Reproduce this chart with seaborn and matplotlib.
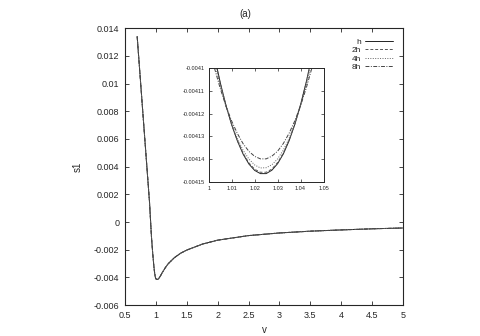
import matplotlib
matplotlib.use("Agg")
import matplotlib.pyplot as plt
import seaborn as sns
import pandas as pd

# left branch (shared by all step sizes)
v_left = [0.70, 0.75, 0.80, 0.85, 0.90, 0.93, 0.95, 0.97, 0.98, 0.99]
s1_left = [0.0134, 0.0104, 0.0074, 0.0044, 0.0014, -0.0010, -0.0022, -0.0032, -0.0036, -0.0039]

# around the minimum (where the step sizes differ)
v_min = [1.0, 1.0025, 1.005, 1.0075, 1.01, 1.0125, 1.015, 1.0175, 1.02, 1.0225, 1.025,
         1.0275, 1.03, 1.0325, 1.035, 1.0375, 1.04, 1.0425, 1.045, 1.0475, 1.05]
s1_min_h = [-0.0040818, -0.0040948, -0.0041063, -0.0041164, -0.0041250, -0.0041321, -0.0041379,
            -0.0041422, -0.0041450, -0.0041464, -0.0041464, -0.0041449, -0.0041420, -0.0041377,
            -0.0041319, -0.0041247, -0.0041160, -0.0041059, -0.0040943, -0.0040813, -0.0040669]
s1_min_2h = [-0.0040827, -0.0040954, -0.0041066, -0.0041164, -0.0041249, -0.0041319, -0.0041375,
             -0.0041417, -0.0041445, -0.0041458, -0.0041458, -0.0041444, -0.0041415, -0.0041373,
             -0.0041316, -0.0041245, -0.0041161, -0.0041062, -0.0040949, -0.0040822, -0.0040681]
s1_min_4h = [-0.0040858, -0.0040974, -0.0041077, -0.0041168, -0.0041245, -0.0041310, -0.0041362,
             -0.0041400, -0.0041426, -0.0041439, -0.0041438, -0.0041425, -0.0041399, -0.0041360,
             -0.0041308, -0.0041243, -0.0041165, -0.0041074, -0.0040970, -0.0040853, -0.0040723]
s1_min_8h = [-0.0040900, -0.0041000, -0.0041089, -0.0041167, -0.0041233, -0.0041288, -0.0041333,
             -0.0041366, -0.0041388, -0.0041399, -0.0041399, -0.0041387, -0.0041365, -0.0041331,
             -0.0041286, -0.0041231, -0.0041164, -0.0041086, -0.0040996, -0.0040896, -0.0040784]

# right branch (shared)
v_right = [1.075, 1.1, 1.15, 1.2, 1.3, 1.4, 1.5, 1.75, 2.0, 2.5, 3.0, 3.5, 4.0, 4.5, 5.0]
s1_right = [-0.00390, -0.00370, -0.00333, -0.00302, -0.00258, -0.00226, -0.00203, -0.00160,
            -0.00131, -0.00098, -0.00079, -0.00066, -0.00057, -0.00049, -0.00043]

labels = ["h", "2h", "4h", "8h"]
mins = [s1_min_h, s1_min_2h, s1_min_4h, s1_min_8h]
styles = {"h": "-", "2h": (0, (3, 2)), "4h": (0, (1, 1.5)), "8h": (0, (4, 1.5, 1, 1.5))}
colors = {"h": "#222222", "2h": "#555555", "4h": "#666666", "8h": "#444444"}

frames = []
for lab, m in zip(labels, mins):
    frames.append(pd.DataFrame({"v": v_left + v_min + v_right,
                                "s1": s1_left + m + s1_right,
                                "step": lab}))
df = pd.concat(frames, ignore_index=True)

sns.set_style("ticks")
plt.rcParams["font.family"] = ["Liberation Sans", "DejaVu Sans"]
plt.rcParams["xtick.direction"] = "in"
plt.rcParams["ytick.direction"] = "in"

fig = plt.figure(figsize=(4.8, 3.36), dpi=100)
ax = fig.add_axes([0.26, 0.092, 0.58, 0.824])

for lab in labels:
    d = df[df.step == lab]
    sns.lineplot(data=d, x="v", y="s1", ax=ax, color=colors[lab], linestyle=styles[lab],
                 linewidth=0.7, label=lab, sort=False)

ax.set_xlim(0.5, 5)
ax.set_ylim(-0.006, 0.014)
ax.set_xticks([0.5, 1, 1.5, 2, 2.5, 3, 3.5, 4, 4.5, 5])
ax.set_xticklabels(["0.5", "1", "1.5", "2", "2.5", "3", "3.5", "4", "4.5", "5"])
yt = [-0.006, -0.004, -0.002, 0, 0.002, 0.004, 0.006, 0.008, 0.01, 0.012, 0.014]
ax.set_yticks(yt)
ax.set_yticklabels(["-0.006", "-0.004", "-0.002", "0", "0.002", "0.004", "0.006",
                    "0.008", "0.01", "0.012", "0.014"])
ax.tick_params(labelsize=6.5, length=3, width=0.6, top=True, right=True, pad=4)
for s in ax.spines.values():
    s.set_linewidth(0.8)
ax.set_xlabel("v", fontsize=7, labelpad=4)
ax.set_ylabel("s1", fontsize=7, labelpad=8)
ax.set_title("(a)", fontsize=7, pad=8, x=0.432)
leg = ax.legend(loc="upper right", frameon=False, fontsize=6, markerfirst=False,
                handlelength=3.4, handletextpad=0.5, labelspacing=0.05,
                borderaxespad=0.9, borderpad=0.3)
for t in leg.get_texts():
    t.set_ha("right")

# inset
ins = fig.add_axes([0.435, 0.459, 0.239, 0.3375])
for lab in labels:
    d = df[df.step == lab]
    sns.lineplot(data=d, x="v", y="s1", ax=ins, color=colors[lab], linestyle=styles[lab],
                 linewidth=0.7, sort=False, legend=False)
ins.set_xlim(1, 1.05)
ins.set_ylim(-0.00415, -0.0041)
ins.set_xticks([1, 1.01, 1.02, 1.03, 1.04, 1.05])
ins.set_xticklabels(["1", "1.01", "1.02", "1.03", "1.04", "1.05"])
ins.set_yticks([-0.00415, -0.00414, -0.00413, -0.00412, -0.00411, -0.0041])
ins.set_yticklabels(["-0.00415", "-0.00414", "-0.00413", "-0.00412", "-0.00411", "-0.0041"])
ins.tick_params(labelsize=4, length=2.5, width=0.5, top=True, right=True, pad=3)
ins.set_xlabel("")
ins.set_ylabel("")
for s in ins.spines.values():
    s.set_linewidth(0.7)

fig.savefig("out.png", dpi=100)
